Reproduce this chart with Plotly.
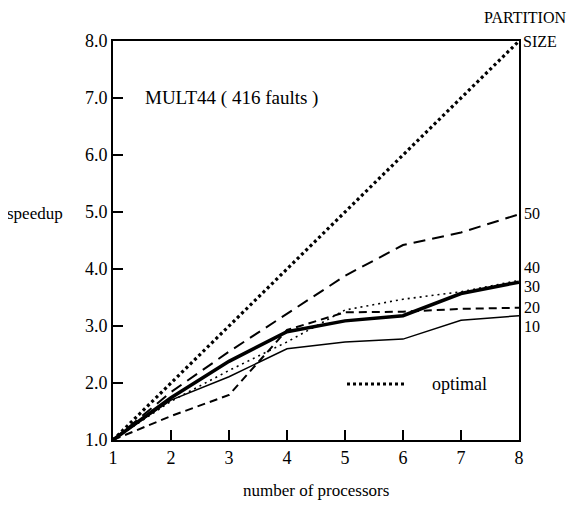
import plotly.graph_objects as go

processors = [1, 2, 3, 4, 5, 6, 7, 8]
optimal = [1, 2, 3, 4, 5, 6, 7, 8]
ps50 = [1.0, 1.84, 2.55, 3.22, 3.88, 4.42, 4.64, 4.96]
ps40 = [1.0, 1.68, 2.22, 2.72, 3.28, 3.47, 3.60, 3.80]
ps30 = [1.0, 1.74, 2.38, 2.90, 3.09, 3.18, 3.57, 3.77]
ps20 = [1.0, 1.42, 1.79, 2.93, 3.24, 3.25, 3.30, 3.32]
ps10 = [1.0, 1.70, 2.11, 2.60, 2.72, 2.77, 3.10, 3.18]

part_labels = ["50", "40", "30", "20", "10"]
part_label_y = [4.98, 4.02, 3.70, 3.32, 3.00]
y_ticks = [1, 2, 3, 4, 5, 6, 7, 8]

FONT = "Liberation Serif"
OFF = 8  # page body margin
WIN_W, WIN_H = 576, 507
W, H = WIN_W - OFF, WIN_H - OFF
# plot area in window pixels
PX0, PX1, PY0, PY1 = 113, 519, 41, 440
L, T = PX0 - OFF, PY0 - OFF
R, B = W - (PX1 - OFF), H - (PY1 - OFF)


def pxx(px):
    return (px - PX0) / (PX1 - PX0)


def pxy(py):
    return 1 - (py - PY0) / (PY1 - PY0)


fig = go.Figure()
styles = [
    (optimal, 3.2, "3px,3px"),
    (ps50, 2, "12px,7px"),
    (ps40, 1.6, "2px,4px"),
    (ps20, 2, "8px,5px"),
    (ps10, 1.5, "solid"),
    (ps30, 3.5, "solid"),
]
for ys, w, d in styles:
    fig.add_trace(go.Scatter(x=processors, y=ys, mode="lines",
                             line=dict(color="black", width=w, dash=d),
                             showlegend=False, hoverinfo="skip"))

ann = []
for lab, yv in zip(part_labels, part_label_y):
    ann.append(dict(x=8, y=yv, xref="x", yref="y", text=lab, showarrow=False,
                    xanchor="left", yanchor="middle", xshift=3,
                    font=dict(family=FONT, size=16, color="black")))


def txt(text, x, y, anchor, size):
    return dict(x=pxx(x), y=pxy(y), xref="paper", yref="paper", text=text,
                showarrow=False, xanchor=anchor, yanchor="middle",
                font=dict(family=FONT, size=size, color="black"))


ann += [
    txt("PARTITION", 525, 18, "center", 16),
    txt("SIZE", 540, 41, "center", 16),
    txt("MULT44 ( 416 faults )", 143, 98, "left", 19),
    txt("speedup", 35, 214, "center", 17),
    txt("number of processors", 316, 490, "center", 17),
    txt("optimal", 430, 384, "left", 18),
]

fig.add_shape(type="line", xref="paper", yref="paper",
              x0=pxx(347), x1=pxx(406), y0=pxy(384), y1=pxy(384),
              line=dict(color="black", width=3, dash="3px,3px"))

fig.update_layout(
    width=W, height=H,
    margin=dict(l=L, r=R, t=T, b=B),
    paper_bgcolor="white", plot_bgcolor="white",
    annotations=ann,
    xaxis=dict(range=[1, 8], tickvals=processors, ticks="inside", ticklen=10,
               tickwidth=2, tickcolor="black", showline=True, linecolor="black",
               linewidth=2, mirror=True, showgrid=False, zeroline=False,
               tickfont=dict(family=FONT, size=18, color="black")),
    yaxis=dict(range=[1, 8], tickvals=y_ticks, tickformat=".1f", ticks="inside",
               ticklen=10, tickwidth=2, tickcolor="black", showline=True,
               linecolor="black", linewidth=2, mirror=True, showgrid=False,
               zeroline=False, tickfont=dict(family=FONT, size=18, color="black")),
)
fig.write_html("out.html")
